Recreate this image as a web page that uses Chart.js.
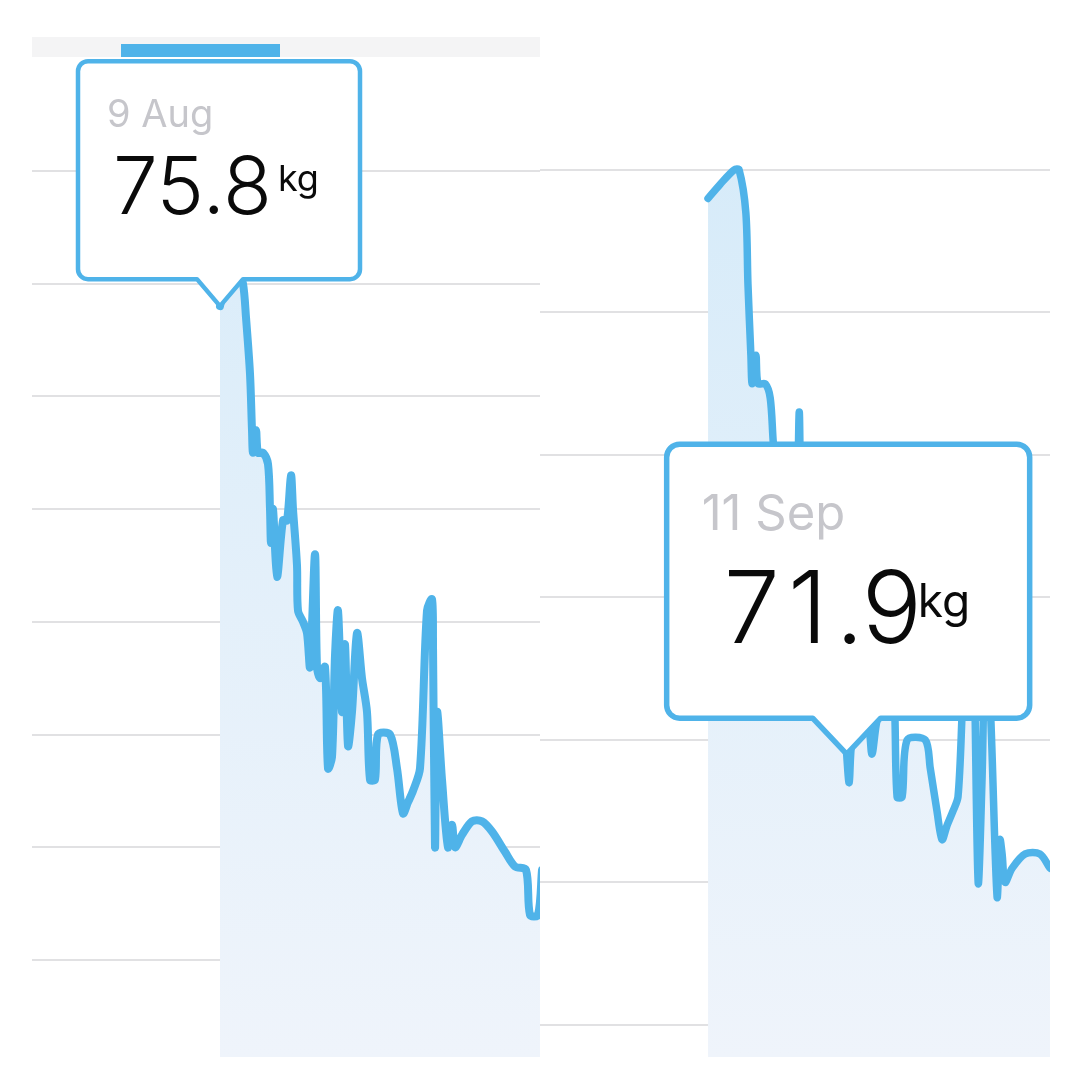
<!DOCTYPE html>
<html lang="en">
<head>
<meta charset="utf-8">
<title>Weight</title>
<script src="https://cdn.jsdelivr.net/npm/chart.js"></script>
<style>
  body { margin: 0; background: #fff; width: 1080px; height: 1067px; position: relative; overflow: hidden; }
  #topBand { position: absolute; left: 32px; top: 37px; width: 508px; height: 20px; background: #f4f4f5; }
  #topBand div { position: absolute; left: 89px; top: 7px; width: 159px; height: 13px; background: #4fb3e9; }
  #leftWrap { position: absolute; left: 32px; top: 57px; }
  #rightWrap { position: absolute; left: 540px; top: 140px; }
</style>
</head>
<body>
<div id="topBand"><div></div></div>
<div id="leftWrap"><canvas id="leftChart" width="508" height="1000"></canvas></div>
<div id="rightWrap"><canvas id="rightChart" width="510" height="917"></canvas></div>

<script>
// days since 9 Aug
const startDate = new Date(2019, 7, 9);
const monthNames = ['Jan','Feb','Mar','Apr','May','Jun','Jul','Aug','Sep','Oct','Nov','Dec'];

// left screenshot
const leftDays = [0, 2.5, 4.5, 5.75, 6.5, 7.5, 8, 8.25, 9, 9.5, 10.75, 12, 12.5, 12.75, 13.25, 14.25, 15.75, 16.75, 17.75, 18.25,
  19.25, 19.5, 20.75, 21.75, 22.5, 23.75, 24.25, 25, 26.25, 27, 28, 28.75, 29.5, 30.5, 31.25, 32, 33, 34.25, 35.5, 36.75,
  37.5, 38.75, 39.5, 42.5, 44.25, 45.75, 47, 48.25, 50, 51.75, 53, 53.25, 53.75, 54.25, 55.5, 57, 58, 58.75, 60.5, 63,
  65.5, 68, 71.25, 73.75, 76.5, 77.5, 79.5, 80.5];
const leftKg = [75.8, 76.2, 76.1, 76.0, 75.7, 75.2, 74.7, 74.5, 74.7, 74.5, 74.5, 74.4, 74.0, 73.7, 74.0, 73.4, 73.9, 73.9, 74.3, 74.0,
  73.5, 73.1, 73.0, 72.9, 72.6, 73.6, 72.6, 72.5, 72.6, 71.7, 71.8, 72.7, 73.1, 72.2, 72.8, 71.9, 72.2, 72.9, 72.5, 72.2,
  71.6, 71.6, 72.0, 72.0, 71.7, 71.3, 71.4, 71.5, 71.7, 73.1, 73.2, 72.8, 71.0, 72.2, 71.6, 71.0, 71.2, 71.0, 71.11, 71.23,
  71.23, 71.14, 70.96, 70.83, 70.8, 70.4, 70.4, 70.8];
const leftTicks = [70, 71, 72, 73, 74, 75, 76, 77];
const leftTipDay = 0;

// right screenshot
const rightDays = [0, 2.9, 6.2, 7.4, 9.0, 9.5, 10.2, 10.5, 11.4, 11.9, 13.6, 14.8, 15.5, 17.1, 18.8, 20.2, 21.0, 21.7, 22.4, 24.3,
  26.2, 27.9, 29.5, 32.1, 33, 33.6, 34.3, 36.2, 38.1, 39.0, 40.0, 41.4, 43.3, 44.3, 45.0, 46.2, 47.4, 51.7, 52.9, 54.5,
  55.7, 56.9, 58.3, 59.5, 60.5, 61.2, 62.1, 63.1, 64.3, 65.2, 66.0, 67.1, 68.8, 69.5, 70.0, 70.7, 72.4, 75.5, 79.0, 81.4];
const rightKg = [75.8, 75.9, 76.0, 76.0, 75.7, 75.2, 74.7, 74.5, 74.7, 74.5, 74.5, 74.4, 74.1, 73.5, 73.0, 73.3, 73.0, 74.3, 73.3, 72.8,
  73.0, 72.6, 72.7, 72.3, 71.9, 71.7, 72.0, 72.1, 72.1, 71.9, 72.1, 72.3, 72.4, 72.3, 71.6, 71.6, 72.0, 72.0, 71.8, 71.5,
  71.3, 71.4, 71.5, 71.6, 72.2, 72.7, 72.3, 72.8, 71.0, 71.7, 72.6, 72.3, 70.9, 71.3, 71.2, 71.0, 71.1, 71.2, 71.2, 71.1];
const rightTicks = [70, 71, 72, 73, 74, 75, 76];
const rightTipDay = 33;

const lineBlue = '#4fb3e9';

function dayLabel(d) {
  let dt = new Date(startDate);
  dt.setDate(dt.getDate() + d);
  return dt.getDate() + ' ' + monthNames[dt.getMonth()];
}

// digits on a fixed advance (width of "7"), so a "1" gets the wide slot like on the phone
function drawTabular(c, str, x, y) {
  const adv = c.measureText('7').width;
  let cx = x;
  for (const ch of str) {
    const w = c.measureText(ch).width;
    if (/[0-9]/.test(ch)) {
      c.fillText(ch, cx + (adv - w) / 2, y);
      cx += adv;
    } else {
      c.fillText(ch, cx, y);
      cx += w;
    }
  }
  return cx - x;
}

// speech-bubble tooltip pinned to one point
const calloutPlugin = {
  id: 'callout',
  afterDatasetsDraw(chart, args, o) {
    const ds = chart.data.datasets[0];
    const idx = ds.data.findIndex(p => p.x === o.day);
    const pt = chart.getDatasetMeta(0).data[idx];
    const c = chart.ctx;
    const px = pt.x, py = pt.y, r = o.radius;
    const left = px - o.offset, right = left + o.w;
    const bottom = py - o.notchH, top = bottom - o.h;
    c.save();
    c.beginPath();
    c.moveTo(left + r, top);
    c.lineTo(right - r, top);
    c.arcTo(right, top, right, top + r, r);
    c.lineTo(right, bottom - r);
    c.arcTo(right, bottom, right - r, bottom, r);
    c.lineTo(px + o.notchW, bottom);
    c.lineTo(px, py);
    c.lineTo(px - o.notchW, bottom);
    c.lineTo(left + r, bottom);
    c.arcTo(left, bottom, left, bottom - r, r);
    c.lineTo(left, top + r);
    c.arcTo(left, top, left + r, top, r);
    c.closePath();
    c.fillStyle = '#fff';
    c.fill();
    c.lineWidth = o.lw;
    c.strokeStyle = lineBlue;
    c.lineJoin = 'round';
    c.stroke();

    const val = ds.data[idx].y.toFixed(1);
    c.textBaseline = 'alphabetic';
    c.fillStyle = '#c6c6cb';
    c.font = '400 ' + o.dateSize + 'px Inter, "Noto Sans", sans-serif';
    c.fillText(dayLabel(o.day), left + o.dateX, top + o.dateY);
    c.fillStyle = '#0a0a0a';
    c.font = '300 ' + o.valSize + 'px Inter, "Noto Sans", sans-serif';
    const vw = drawTabular(c, val, left + o.valX, top + o.valY);
    c.font = '400 ' + o.unitSize + 'px Inter, "Noto Sans", sans-serif';
    c.fillText('kg', left + o.valX + vw + o.unitGap, top + o.unitY);
    c.restore();
  }
};

function fillGradient(ctx) {
  const area = ctx.chart.chartArea;
  if (!area) return 'rgba(214,235,249,0.8)';
  const g = ctx.chart.ctx.createLinearGradient(0, area.top, 0, area.bottom);
  g.addColorStop(0, '#d6ebf9');
  g.addColorStop(1, '#eff4fb');
  return g;
}

function makeChart(id, days, kg, ticks, xr, yr, lw, tip) {
  return new Chart(document.getElementById(id), {
    type: 'line',
    data: {
      datasets: [{
        data: days.map((d, i) => ({ x: d, y: kg[i] })),
        borderColor: lineBlue,
        borderWidth: lw,
        backgroundColor: fillGradient,
        fill: 'start',
        pointRadius: 0,
        tension: 0.3,
        borderCapStyle: 'round',
        borderJoinStyle: 'round'
      }]
    },
    options: {
      responsive: false,
      animation: false,
      layout: { padding: 0 },
      plugins: { legend: { display: false }, tooltip: { enabled: false }, callout: tip },
      scales: {
        x: { type: 'linear', min: xr[0], max: xr[1], display: false },
        y: {
          min: yr[0], max: yr[1],
          ticks: { display: false },
          grid: { color: '#e1e1e3', lineWidth: 2, drawTicks: false },
          border: { display: false },
          afterBuildTicks: s => { s.ticks = ticks.map(v => ({ value: v })); }
        }
      }
    },
    plugins: [calloutPlugin]
  });
}

makeChart('leftChart', leftDays, leftKg, leftTicks, [-47, 80], [69.14, 78.01], 8, {
  day: leftTipDay, offset: 142, w: 282, h: 218, notchH: 27, notchW: 23, radius: 10, lw: 4.5,
  dateSize: 38, dateX: 29, dateY: 66, valSize: 80, valX: 35, valY: 153, unitSize: 36, unitGap: 8, unitY: 130
});

makeChart('rightChart', rightDays, rightKg, rightTicks, [-40, 81.4], [69.775, 76.21], 7.5, {
  day: rightTipDay, offset: 180, w: 363, h: 274, notchH: 36, notchW: 34, radius: 13, lw: 5.5,
  dateSize: 49, dateX: 35, dateY: 86, valSize: 100, valX: 57, valY: 199, unitSize: 46, unitGap: -2, unitY: 173
});
</script>
</body>
</html>
